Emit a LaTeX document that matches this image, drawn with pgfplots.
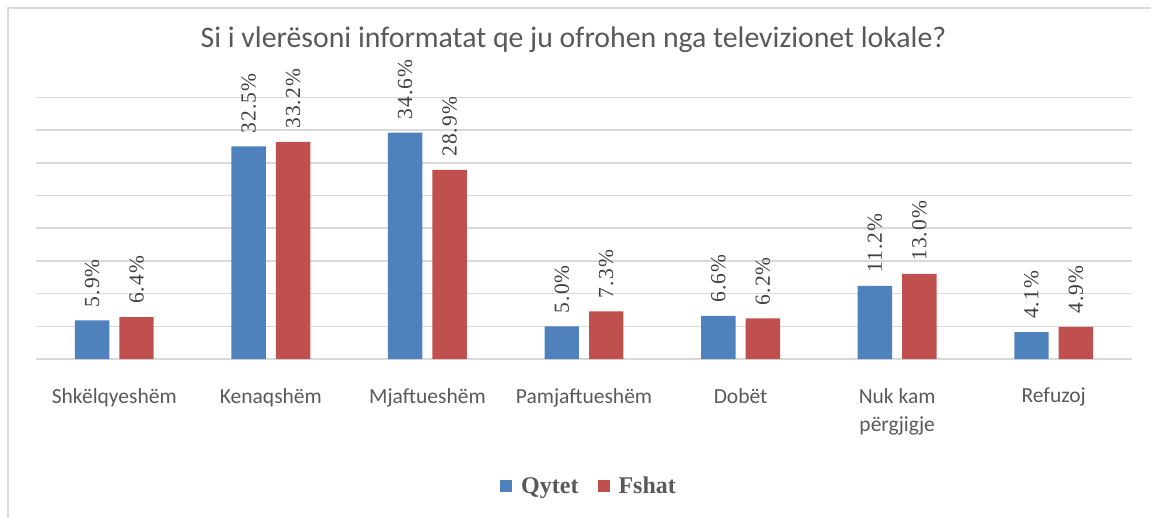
\documentclass[border=0pt]{standalone}
\usepackage{fontspec}
\setmainfont{Carlito}
\newfontfamily\serif{Liberation Serif}
\newfontfamily\serifsp[LetterSpace=5]{Liberation Serif}
\usepackage{pgfplots}
\pgfplotsset{compat=1.18}
\definecolor{qblue}{HTML}{4F81BD}
\definecolor{fred}{HTML}{C0504D}
\definecolor{gridc}{HTML}{D9D9D9}
\definecolor{txtc}{HTML}{595959}
\definecolor{lblc}{HTML}{404040}
\pgfplotsset{sqlegend/.style={legend image code/.code={\fill[##1] (0pt,-6pt) rectangle (12pt,6pt); \path (19pt,0pt);}}}
\begin{document}
\begin{tikzpicture}
\useasboundingbox (0pt,0pt) rectangle (1151pt,-518pt);
\draw[gridc, line width=2pt] (8pt,-560pt) -- (8pt,-8pt) -- (1200pt,-8pt);
\node[anchor=base, text=txtc, font=\fontsize{29.8}{31}\selectfont] at (573.5pt,-48pt) {Si i vlerësoni informatat qe ju ofrohen nga televizionet lokale?};
\begin{axis}[
 at={(36pt,-359pt)}, anchor=south west, scale only axis,
 width=1096pt, height=261.6pt,
 xmin=-0.5, xmax=6.5, ymin=0, ymax=40,
 ybar, bar width=0.22,
 xtick={0,...,6}, xticklabels={Shkëlqyeshëm,Kenaqshëm,Mjaftueshëm,Pamjaftueshëm,Dobët,{Nuk kam\\përgjigje},Refuzoj},
 ytick={0,5,...,40}, yticklabels={},
 ymajorgrids, grid style={gridc, line width=1.5pt},
 major tick length=0pt,
 axis line style={draw=none},
 xticklabel style={align=center, font=\fontsize{21.5}{28}\selectfont, text=txtc, inner sep=0pt, anchor=north, yshift=-29pt},
 nodes near coords={\pgfmathprintnumber[fixed,fixed zerofill,precision=1]{\pgfplotspointmeta}\%},
 every node near coord/.append style={rotate=90, anchor=west, inner xsep=13pt, inner ysep=0pt, font=\serifsp\fontsize{21.5}{24}\selectfont, text=lblc},
 /pgf/number format/assume math mode=true,
 legend columns=2,
 legend style={at={(0.5046,-0.4855)}, anchor=center, draw=none, fill=none, font=\serif\bfseries\fontsize{24}{26}\selectfont, text=txtc, /tikz/every even column/.append style={column sep=17pt}},
 clip=false,
]
\addplot[fill=qblue, draw=none, bar shift=-0.142, sqlegend] coordinates {(0,5.9) (1,32.5) (2,34.6) (3,5.0) (4,6.6) (5,11.2) (6,4.1)};
\addplot[fill=fred, draw=none, bar shift=0.142, sqlegend] coordinates {(0,6.4) (1,33.2) (2,28.9) (3,7.3) (4,6.2) (5,13.0) (6,4.9)};
\legend{Qytet,Fshat}
\end{axis}
\end{tikzpicture}
\end{document}
